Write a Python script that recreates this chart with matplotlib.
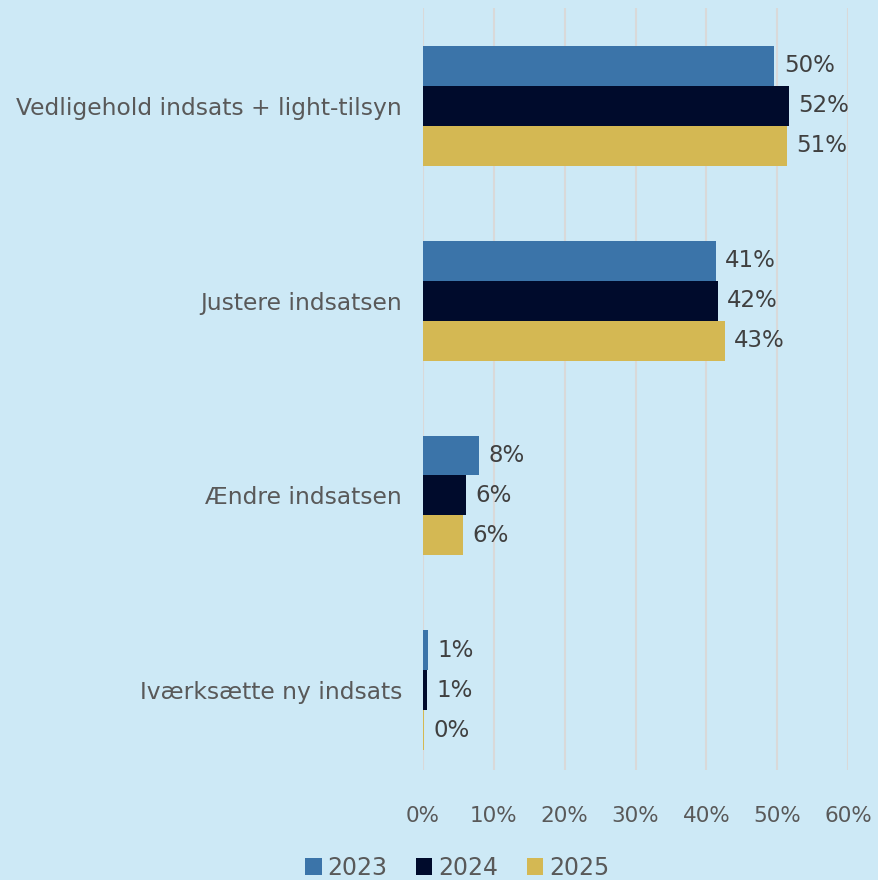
import numpy as np
import matplotlib.pyplot as plt
from matplotlib.ticker import FuncFormatter

categories = ["Vedligehold indsats + light-tilsyn", "Justere indsatsen",
              "Ændre indsatsen", "Iværksætte ny indsats"]
years = ["2023", "2024", "2025"]
v2023 = [49.6, 41.3, 7.9, 0.7]
v2024 = [51.6, 41.6, 6.1, 0.6]
v2025 = [51.4, 42.6, 5.7, 0.2]
colors = ["#3b74a9", "#000b2c", "#d4b853"]

bg = "#cde9f6"
plt.rcParams['font.family'] = ['DejaVu Sans']

fig = plt.figure(figsize=(8.79, 8.80), dpi=100, facecolor=bg)
ax = fig.add_axes([0.481, 0.125, 0.484, 0.866], facecolor=bg)

y = np.arange(len(categories))
h = 0.205
for i, (vals, col, yr) in enumerate(zip([v2023, v2024, v2025], colors, years)):
    pos = y + (i - 1) * h
    ax.barh(pos, vals, height=h, color=col, label=yr, zorder=3)
    for p, v in zip(pos, vals):
        ax.text(v + 1.3, p, f"{round(v)}%", va='center', ha='left',
                fontsize=16.5, color='#404040')

ax.set_xlim(0, 60)
ax.set_xticks(range(0, 61, 10))
ax.xaxis.set_major_formatter(FuncFormatter(lambda x, _: f"{x:.0f}%"))
ax.set_ylim(3.41, -0.503)
ax.set_yticks(y)
ax.set_yticklabels(categories)
ax.grid(axis='x', color='#d9d9d9', linewidth=1.5, zorder=0)
for s in ax.spines.values():
    s.set_visible(False)
ax.tick_params(axis='x', length=0, labelsize=15.5, labelcolor='#595959', pad=26)
ax.tick_params(axis='y', length=0, labelsize=16.8, labelcolor='#595959', pad=15)

fig.legend(loc='lower center', bbox_to_anchor=(0.52, -0.024), ncol=3,
           frameon=False, fontsize=17, labelcolor='#595959',
           handlelength=0.7, handleheight=0.7, handletextpad=0.25, columnspacing=1.2)

fig.savefig("out.png", dpi=100, facecolor=bg)
